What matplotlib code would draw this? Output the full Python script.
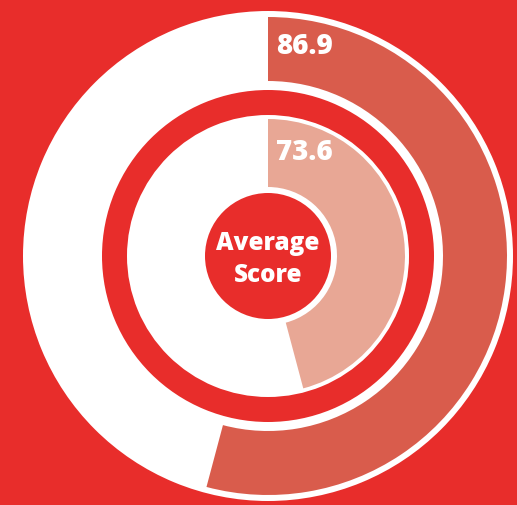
import matplotlib
matplotlib.use("Agg")
import matplotlib.pyplot as plt
from matplotlib.patches import Wedge, Circle

# data
series = ["Outer", "Inner"]
values = [86.9, 73.6]
center_label = ["Average", "Score"]

BG = "#E82D2B"
COLORS = ["#D95C4C", "#E8A795"]
WHITE = "#FFFFFF"

W, H = 517, 505
fig = plt.figure(figsize=(W / 100, H / 100), dpi=100, facecolor=BG)
ax = fig.add_axes([0, 0, 1, 1])
ax.set_facecolor(BG)

cx, cy = 268, H - 256
total = sum(values)

# ring geometry (pixels): track outer/inner, bar outer/inner
rings = [
    dict(track=(245, 166), bar=(239, 175), text_y=H - 46),
    dict(track=(141, 0), bar=(137, 69), text_y=H - 153),
]

FONT = ["Open Sans", "DejaVu Sans"]

for val, col, rg in zip(values, COLORS, rings):
    t_out, t_in = rg["track"]
    ax.add_patch(Wedge((cx, cy), t_out, 0, 360, width=t_out - t_in,
                       facecolor=WHITE, edgecolor="none"))
    b_out, b_in = rg["bar"]
    ax.pie([val, total - val], colors=[col, "none"], startangle=90,
           counterclock=False, radius=b_out, center=(cx, cy),
           wedgeprops=dict(width=b_out - b_in, edgecolor="none", linewidth=0))
    ax.text(cx + 8, rg["text_y"], f"{val:.1f}", color=WHITE, fontsize=20,
            fontweight="heavy", family=FONT, ha="left", va="center")

ax.add_patch(Circle((cx, cy), 63, facecolor=BG, edgecolor="none"))
ax.text(cx, H - 250, center_label[0], color=WHITE, fontsize=17.5,
        fontweight="heavy", family=FONT, ha="center", va="baseline")
ax.text(cx, H - 282, center_label[1], color=WHITE, fontsize=17.5,
        fontweight="heavy", family=FONT, ha="center", va="baseline")

ax.set_xlim(0, W)
ax.set_ylim(0, H)
ax.set_aspect("auto")
ax.axis("off")
fig.savefig("out.png", dpi=100, facecolor=BG)
